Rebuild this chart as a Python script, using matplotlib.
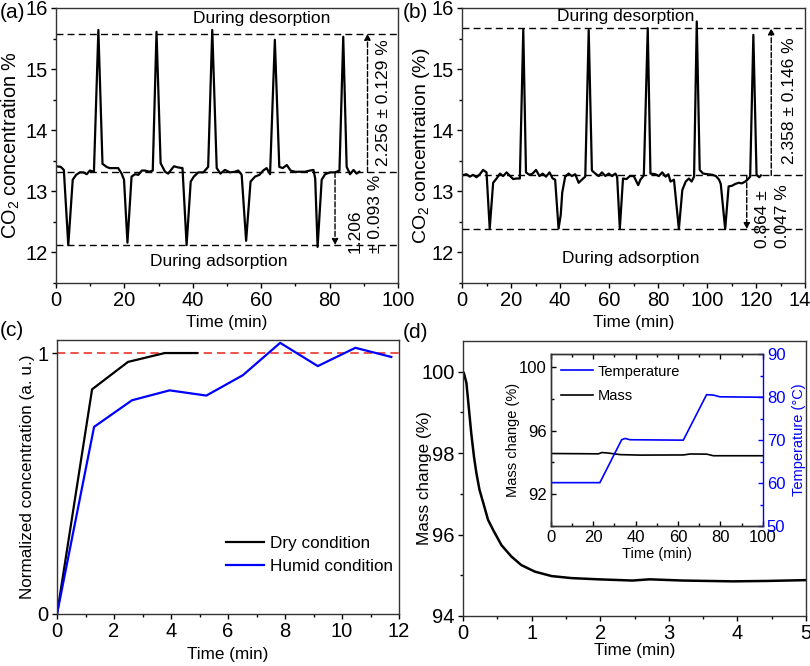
import matplotlib
matplotlib.use("Agg")
import matplotlib.pyplot as plt
from matplotlib.ticker import MultipleLocator

plt.rcParams['font.family'] = ['Liberation Sans', 'DejaVu Sans']
plt.rcParams['mathtext.fontset'] = 'custom'
plt.rcParams['mathtext.rm'] = 'Liberation Sans'
plt.rcParams['mathtext.it'] = 'Liberation Sans:italic'
plt.rcParams['axes.linewidth'] = 1.0
plt.rcParams['axes.edgecolor'] = '#333333'

# ---- (a) CO2 cycles, dry ----
a_time = [0.0, 1.4, 2.3, 3.6, 4.9, 5.9, 7.0, 8.0, 9.0, 9.9, 11.1, 12.4, 13.6, 14.8, 15.7, 16.9,
          18.2, 19.2, 19.9, 20.9, 22.1, 23.1, 24.1, 25.1, 26.0, 27.3, 28.3, 29.4, 30.6, 31.9,
          32.8, 34.5, 35.8, 37.0, 38.2, 39.4, 40.3, 41.6, 43.1, 44.5, 45.7, 47.0, 48.1, 49.4,
          50.9, 52.3, 53.3, 54.3, 55.6, 56.9, 58.2, 59.5, 60.6, 61.6, 62.6, 64.0, 65.3, 66.3,
          67.5, 68.6, 69.9, 71.4, 72.8, 74.3, 75.3, 75.8, 76.5, 77.7, 78.7, 80.2, 81.6, 82.9,
          84.0, 85.0, 86.0, 87.0, 87.9, 88.7]
a_co2 = [13.41, 13.40, 13.35, 12.12, 13.19, 13.27, 13.31, 13.31, 13.28, 13.34, 13.32, 15.64,
         13.45, 13.40, 13.38, 13.38, 13.38, 13.29, 13.19, 12.16, 13.24, 13.28, 13.27, 13.34,
         13.34, 13.32, 13.34, 15.61, 13.46, 13.32, 13.29, 13.41, 13.39, 13.38, 12.12, 13.16,
         13.24, 13.31, 13.31, 13.40, 15.64, 13.38, 13.29, 13.35, 13.31, 13.32, 13.34, 13.27,
         12.19, 13.16, 13.24, 13.27, 13.34, 13.38, 13.28, 15.48, 13.40, 13.38, 13.43, 13.34,
         13.32, 13.32, 13.32, 13.34, 13.35, 13.21, 12.09, 13.19, 13.28, 13.31, 13.31, 13.34,
         15.53, 13.40, 13.28, 13.35, 13.29, 13.32]
a_levels = [15.58, 13.31, 12.12]   # desorption, baseline, adsorption

# ---- (b) CO2 cycles, humid ----
b_time = [0.0, 1.8, 3.2, 4.5, 5.9, 7.3, 8.6, 10.0, 11.3, 12.7, 14.1, 15.5, 16.8, 18.2, 19.6,
          20.9, 22.3, 23.6, 25.0, 26.1, 27.5, 28.8, 30.2, 31.6, 32.9, 34.3, 35.7, 37.0, 38.0,
          39.4, 40.3, 40.9, 42.1, 43.5, 44.8, 46.2, 47.6, 48.9, 50.3, 51.7, 53.0, 54.4, 55.8,
          57.1, 58.5, 59.9, 61.2, 62.6, 63.3, 64.4, 65.7, 67.1, 68.5, 70.1, 71.9, 72.8, 74.2,
          75.8, 76.9, 78.9, 80.3, 81.7, 83.1, 84.2, 85.1, 86.5, 88.5, 89.9, 91.3, 92.6, 93.7,
          94.7, 95.8, 97.0, 98.4, 100.2, 102.2, 103.6, 104.9, 105.6, 107.4, 108.8, 110.1, 111.5,
          112.9, 114.2, 115.6, 116.5, 117.6, 118.9, 120.2, 121.3, 122.0]
b_co2 = [13.26, 13.28, 13.24, 13.27, 13.23, 13.28, 13.35, 13.31, 12.39, 13.14, 13.21, 13.29,
         13.25, 13.31, 13.25, 13.20, 13.21, 13.21, 15.65, 13.31, 13.27, 13.29, 13.35, 13.25,
         13.29, 13.24, 13.31, 13.21, 13.19, 12.39, 12.62, 12.98, 13.24, 13.29, 13.25, 13.28,
         13.14, 13.19, 13.24, 15.64, 13.34, 13.29, 13.25, 13.31, 13.25, 13.29, 13.25, 13.29,
         13.24, 12.39, 13.21, 13.20, 13.25, 13.25, 13.10, 13.19, 13.26, 15.67, 13.29, 13.28,
         13.25, 13.31, 13.24, 13.28, 13.16, 13.19, 12.38, 13.02, 13.16, 13.21, 13.16, 13.24,
         15.78, 13.35, 13.29, 13.28, 13.27, 13.25, 13.19, 13.12, 12.38, 13.08, 13.09, 13.12,
         13.14, 13.13, 13.16, 13.19, 13.24, 15.56, 13.27, 13.23, 13.26]
b_levels = [15.67, 13.26, 12.38]

# ---- (c) normalized breakthrough ----
dry_time = [0.0, 1.23, 2.49, 3.78, 4.92]
dry_norm = [0.0, 0.861, 0.966, 1.0, 1.0]
humid_time = [0.0, 1.3, 2.63, 3.95, 5.24, 6.52, 7.83, 9.15, 10.47, 11.73]
humid_norm = [0.0, 0.717, 0.819, 0.857, 0.837, 0.915, 1.039, 0.950, 1.020, 0.985]

# ---- (d) TGA mass ----
d_time = [0.0, 0.015, 0.05, 0.083, 0.12, 0.16, 0.195, 0.24, 0.31, 0.365, 0.44, 0.56, 0.705,
          0.85, 1.045, 1.29, 1.58, 1.97, 2.47, 2.72, 3.2, 3.93, 4.42, 5.0]
d_mass = [100.0, 99.95, 99.72, 99.14, 98.49, 97.91, 97.51, 97.10, 96.69, 96.36, 96.11, 95.74,
          95.46, 95.25, 95.09, 94.98, 94.93, 94.90, 94.87, 94.90, 94.87, 94.85, 94.86, 94.88]

# inset
ins_time_T = [0.0, 23.1, 33.4, 35.0, 37.3, 62.5, 73.5, 76.7, 79.8, 100.0]
ins_temp = [60.1, 60.1, 70.1, 70.4, 70.1, 70.0, 80.6, 80.5, 80.1, 80.0]
ins_time_m = [0.0, 22.4, 24.0, 26.4, 32.7, 42.1, 62.6, 65.7, 73.6, 76.7, 100.0]
ins_mass = [94.56, 94.54, 94.62, 94.60, 94.49, 94.46, 94.47, 94.53, 94.52, 94.42, 94.42]

TICK = 14.5
LAB = 12.3
TXT = 12.5
BLUE = '#0000ff'

fig = plt.figure(figsize=(8.1, 6.66), dpi=100)


def style(ax, size=TICK):
    ax.tick_params(which='both', direction='out', labelsize=size, top=False, right=False, pad=2.5)
    ax.tick_params(which='major', length=3.5, width=1)
    ax.tick_params(which='minor', length=2.2, width=1)


dash = (0, (5, 3))
arrow = dict(arrowstyle='-|>', ls='--', lw=1, color='k', mutation_scale=9, shrinkA=0, shrinkB=0)

# (a)
ax = fig.add_axes([0.0691, 0.5751, 0.4222, 0.4129])
ax.plot(a_time, a_co2, color='k', lw=1.6)
for lv in a_levels:
    ax.axhline(lv, color='k', lw=1, ls=dash)
ax.annotate('', xy=(91.1, a_levels[0]), xytext=(91.1, a_levels[1]), arrowprops=arrow)
ax.annotate('', xy=(81.6, a_levels[2]), xytext=(81.6, a_levels[1]), arrowprops=arrow)
ax.text(95.8, 14.45, '2.256 ± 0.129 %', rotation=90, ha='center', va='center', fontsize=TXT)
ax.text(90.4, 11.99, '1.206\n± 0.093 %', rotation=90, ha='center', va='bottom',
        multialignment='left', fontsize=TXT, linespacing=1.4)
ax.text(60.1, 15.83, 'During desorption', ha='center', va='center', fontsize=TXT)
ax.text(47.5, 11.85, 'During adsorption', ha='center', va='center', fontsize=TXT)
ax.set_xlim(0, 100)
ax.set_ylim(11.5, 16)
ax.xaxis.set_major_locator(MultipleLocator(20))
ax.xaxis.set_minor_locator(MultipleLocator(10))
ax.yaxis.set_major_locator(MultipleLocator(1))
ax.yaxis.set_minor_locator(MultipleLocator(0.5))
style(ax)
ax.set_xlabel('Time (min)', fontsize=LAB)
ax.set_ylabel(r'CO$_\mathregular{2}$ concentration %', fontsize=14.3)
ax.xaxis.set_label_coords(0.5, -0.118)
ax.yaxis.set_label_coords(-0.099, 0.5)

# (b)
ax = fig.add_axes([0.5704, 0.5751, 0.4235, 0.4129])
ax.plot(b_time, b_co2, color='k', lw=1.6)
for lv in b_levels:
    ax.axhline(lv, color='k', lw=1, ls=dash)
ax.annotate('', xy=(126.2, b_levels[0]), xytext=(126.2, b_levels[1]), arrowprops=arrow)
ax.annotate('', xy=(116.2, b_levels[2]), xytext=(116.2, b_levels[1]), arrowprops=arrow)
ax.text(133.7, 14.49, '2.358 ± 0.146 %', rotation=90, ha='center', va='center', fontsize=TXT)
ax.text(126.7, 12.07, '0.864 ±\n0.047 %', rotation=90, ha='center', va='bottom',
        multialignment='left', fontsize=TXT, linespacing=1.35)
ax.text(66.8, 15.86, 'During desorption', ha='center', va='center', fontsize=TXT)
ax.text(68.8, 11.9, 'During adsorption', ha='center', va='center', fontsize=TXT)
ax.set_xlim(0, 140)
ax.set_ylim(11.5, 16)
ax.xaxis.set_major_locator(MultipleLocator(20))
ax.xaxis.set_minor_locator(MultipleLocator(10))
ax.yaxis.set_major_locator(MultipleLocator(1))
ax.yaxis.set_minor_locator(MultipleLocator(0.5))
style(ax)
ax.set_xlabel('Time (min)', fontsize=LAB)
ax.set_ylabel(r'CO$_\mathregular{2}$ concentration (%)', fontsize=14.0)
ax.xaxis.set_label_coords(0.5, -0.118)
ax.yaxis.set_label_coords(-0.087, 0.5)

# (c)
ax = fig.add_axes([0.0704, 0.0781, 0.4222, 0.4114])
ax.axhline(1.0, color='#e8352a', lw=1.2, ls=dash)
ax.plot(dry_time, dry_norm, color='k', lw=1.6, label='Dry condition')
ax.plot(humid_time, humid_norm, color=BLUE, lw=1.6, label='Humid condition')
ax.set_xlim(0, 12)
ax.set_ylim(0, 1.05)
ax.set_yticks([0, 1])
ax.set_yticklabels(['0', '1'])
ax.xaxis.set_major_locator(MultipleLocator(2))
ax.xaxis.set_minor_locator(MultipleLocator(1))
style(ax)
ax.set_xlabel('Time (min)', fontsize=LAB)
ax.set_ylabel('Normalized concentration (a. u.)', fontsize=LAB)
ax.xaxis.set_label_coords(0.5, -0.122)
ax.yaxis.set_label_coords(-0.064, 0.5)
ax.legend(loc='lower right', bbox_to_anchor=(1.012, 0.11), frameon=False, fontsize=LAB,
          handlelength=2.2, handletextpad=0.35, labelspacing=0.45, borderaxespad=0.2)

# (d)
ax = fig.add_axes([0.5716, 0.0751, 0.4235, 0.4129])
ax.plot(d_time, d_mass, color='k', lw=1.8)
ax.set_xlim(0, 5)
ax.set_ylim(94, 100.75)
ax.xaxis.set_major_locator(MultipleLocator(1))
ax.xaxis.set_minor_locator(MultipleLocator(0.5))
ax.yaxis.set_major_locator(MultipleLocator(2))
ax.yaxis.set_minor_locator(MultipleLocator(1))
style(ax)
ax.set_xlabel('Time (min)', fontsize=LAB)
ax.set_ylabel('Mass change (%)', fontsize=LAB)
ax.xaxis.set_label_coords(0.5, -0.097)
ax.yaxis.set_label_coords(-0.09, 0.5)

# inset
ins = fig.add_axes([0.6802, 0.2102, 0.2614, 0.2578])
ins.plot(ins_time_m, ins_mass, color='k', lw=1.2, label='Mass')
ins.set_xlim(0, 100)
ins.set_ylim(90, 100.8)
ins.xaxis.set_major_locator(MultipleLocator(20))
ins.xaxis.set_minor_locator(MultipleLocator(10))
ins.set_yticks([92, 96, 100])
ins.yaxis.set_minor_locator(MultipleLocator(2))
ins.tick_params(which='both', direction='in', labelsize=12, top=True, right=False, pad=3)
ins.tick_params(which='major', length=3.5, width=1)
ins.tick_params(which='minor', length=2, width=1)
ins.set_xlabel('Time (min)', fontsize=10.5)
ins.set_ylabel('Mass change (%)', fontsize=10.5)
ins.xaxis.set_label_coords(0.5, -0.12)
ins.yaxis.set_label_coords(-0.146, 0.5)
ins.spines['right'].set_visible(False)

ins2 = ins.twinx()
ins2.plot(ins_time_T, ins_temp, color=BLUE, lw=1.2, label='Temperature')
ins2.set_ylim(50, 90)
ins2.yaxis.set_major_locator(MultipleLocator(10))
ins2.yaxis.set_minor_locator(MultipleLocator(5))
ins2.tick_params(which='both', direction='in', labelsize=12, colors=BLUE, pad=3)
ins2.tick_params(which='major', length=3.5, width=1)
ins2.tick_params(which='minor', length=2, width=1)
ins2.spines['right'].set_color(BLUE)
ins2.set_ylabel('Temperature (°C)', fontsize=10.5, color=BLUE)
ins2.yaxis.set_label_coords(1.14, 0.5)

h1, l1 = ins2.get_legend_handles_labels()
h2, l2 = ins.get_legend_handles_labels()
ins2.legend(h1 + h2, l1 + l2, loc='upper left', frameon=False, fontsize=10.5,
            handlelength=2.2, handletextpad=0.3, labelspacing=0.7, borderaxespad=0.3)

# panel letters
fig.text(0.0, 1 - 12 / 666, '(a)', fontsize=15, ha='left', va='center')
fig.text(403 / 810, 1 - 12 / 666, '(b)', fontsize=15, ha='left', va='center')
fig.text(0.0, 1 - 330 / 666, '(c)', fontsize=15, ha='left', va='center')
fig.text(403 / 810, 1 - 332 / 666, '(d)', fontsize=15, ha='left', va='center')

fig.savefig('out.png', dpi=100)
